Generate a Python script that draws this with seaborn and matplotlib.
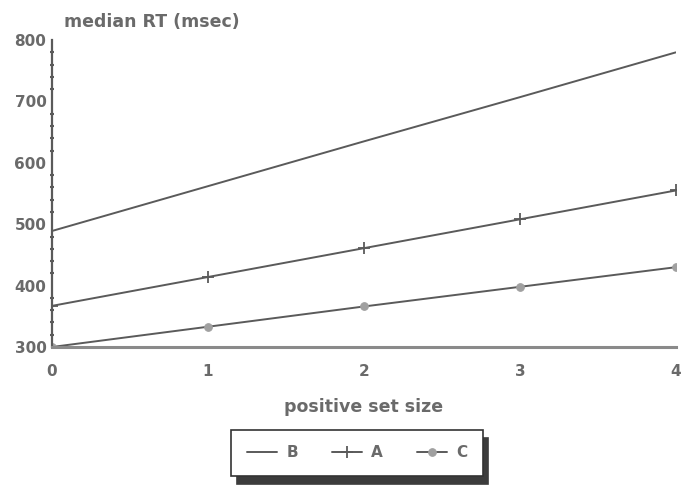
import matplotlib
matplotlib.use("Agg")
import matplotlib.pyplot as plt
from matplotlib.ticker import MultipleLocator
import seaborn as sns
import pandas as pd

# Median reaction time by positive set size, one line per condition
set_size = [0, 1, 2, 3, 4]
rt_B = [489, 562, 635, 707, 780]
rt_A = [367, 414, 461, 508, 555]
rt_C = [300, 333, 366, 398, 430]
x_ticks = [0, 1, 2, 3, 4]
y_ticks = [300, 400, 500, 600, 700, 800]

sns.set_style("white")
plt.rcParams["font.family"] = ["DejaVu Sans"]

ink = "#5a5a5a"
txt = "#6a6a6a"

fig = plt.figure(figsize=(6.84, 4.95), dpi=100)
ax = fig.add_axes([0.076, 0.299, 0.912, 0.620])

df = pd.DataFrame({"size": set_size, "B": rt_B, "A": rt_A, "C": rt_C})

sns.lineplot(data=df, x="size", y="B", ax=ax, color=ink, lw=1.4, label="B")
sns.lineplot(data=df, x="size", y="A", ax=ax, color=ink, lw=1.4, label="A",
             marker="+", markersize=8, markeredgewidth=1.3,
             markeredgecolor=ink)
sns.lineplot(data=df, x="size", y="C", ax=ax, color=ink, lw=1.4, label="C",
             marker="o", markersize=5.5, markerfacecolor="#a0a0a0",
             markeredgecolor="#a0a0a0")

ax.set_xlim(0, 4)
ax.set_ylim(300, 800)
ax.set_xticks(x_ticks)
ax.set_yticks(y_ticks)
ax.yaxis.set_minor_locator(MultipleLocator(20))

for s in ("top", "right"):
    ax.spines[s].set_visible(False)
ax.spines["left"].set_color(ink)
ax.spines["left"].set_linewidth(1.6)
ax.spines["bottom"].set_color("#8a8a8a")
ax.spines["bottom"].set_linewidth(2.2)

ax.tick_params(axis="x", direction="in", length=8, width=1.5, color="#8a8a8a",
               pad=12, labelsize=11, labelcolor=txt)
ax.tick_params(axis="y", which="major", direction="in", length=6, width=1.2,
               color=ink, pad=4, labelsize=11, labelcolor=txt)
ax.tick_params(axis="y", which="minor", direction="inout", length=3, width=1.5,
               color=ink, left=True)
for lab in ax.get_xticklabels() + ax.get_yticklabels():
    lab.set_fontweight("bold")

ax.set_xlabel("positive set size", fontsize=12.5, fontweight="bold", color=txt,
              labelpad=14)
ax.set_ylabel("median RT (msec)", fontsize=12.5, fontweight="bold", color=txt,
              rotation=0, ha="left", va="bottom")
ax.yaxis.set_label_coords(0.02, 1.03)

ax.get_legend().remove()
handles, labels = ax.get_legend_handles_labels()
leg = fig.legend(handles, labels, loc="center", bbox_to_anchor=(0.522, 0.085),
                 ncol=3, frameon=True, fancybox=False, edgecolor="#333333",
                 shadow={"ox": 4, "oy": -6, "color": "#3c3c3c", "alpha": 1},
                 prop={"weight": "bold", "size": 11}, handlelength=2.0,
                 columnspacing=2.2, handletextpad=0.6, borderpad=1.0)
for t in leg.get_texts():
    t.set_color(txt)
leg.get_frame().set_linewidth(1.2)

fig.savefig("out.png", dpi=100, facecolor="white")
